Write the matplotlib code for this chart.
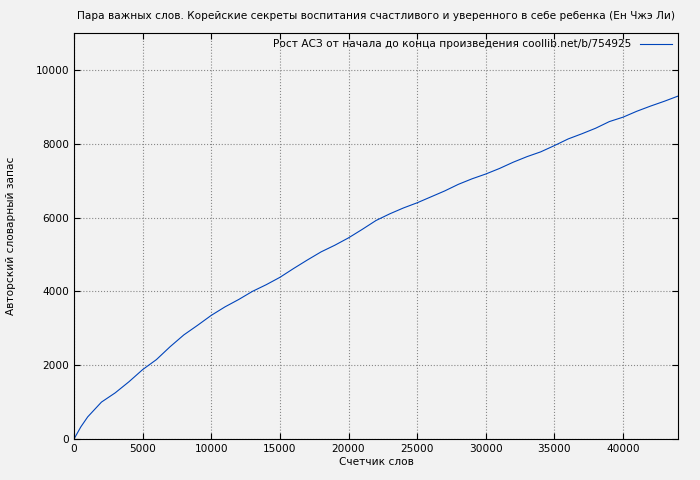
import matplotlib
matplotlib.use("Agg")
import matplotlib.pyplot as plt

words = [0,500,1000,2000,3000,4000,5000,6000,7000,8000,9000,10000,11000,12000,13000,14000,15000,16000,17000,18000,19000,20000,21000,22000,23000,24000,25000,26000,27000,28000,29000,30000,31000,32000,33000,34000,35000,36000,37000,38000,39000,40000,41000,42000,43000,44000]
vocab = [0,330,600,1000,1250,1550,1880,2150,2500,2820,3080,3350,3580,3780,4000,4180,4380,4620,4850,5070,5250,5450,5680,5920,6100,6260,6400,6560,6720,6900,7050,7180,7330,7500,7650,7780,7950,8130,8270,8420,8600,8720,8880,9020,9150,9290]

plt.rcParams['font.family'] = ['DejaVu Sans']
plt.rcParams['font.size'] = 7.6
fig = plt.figure(figsize=(7, 4.8), dpi=100, facecolor='#f2f2f2')
ax = fig.add_axes([74/700, 1-439/480, 604/700, 406/480], facecolor='#f2f2f2')
ax.plot(words, vocab, color='#0044bb', lw=0.8, label='Рост АСЗ от начала до конца произведения coollib.net/b/754925')
ax.set_xlim(0, 44000)
ax.set_ylim(0, 11000)
ax.set_xticks(range(0, 44000, 5000))
ax.set_yticks(range(0, 11000, 2000))
ax.grid(True, color='#888888', ls=':', lw=0.8)
ax.tick_params(direction='in', top=True, right=True, length=4)
ax.set_xlabel('Счетчик слов', labelpad=2)
ax.set_ylabel('Авторский словарный запас', labelpad=14)
ax.set_title('Пара важных слов. Корейские секреты воспитания счастливого и уверенного в себе ребенка (Ен Чжэ Ли)', fontsize=7.6, pad=10)
leg = ax.legend(loc='upper right', frameon=False, markerfirst=False, handlelength=3, borderaxespad=0.2)
fig.savefig('out.png', dpi=100, facecolor=fig.get_facecolor())
